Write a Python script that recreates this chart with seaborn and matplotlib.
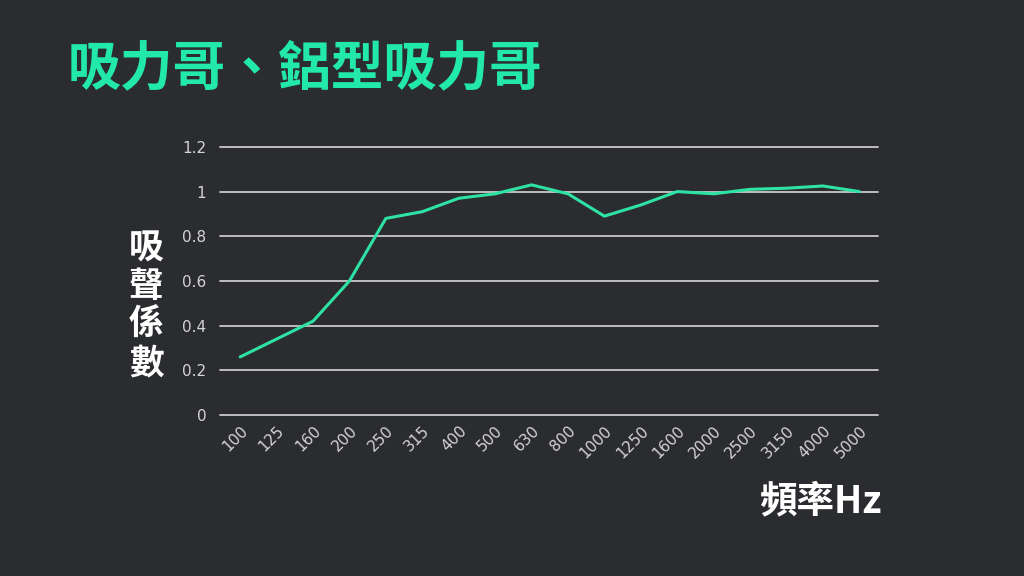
import numpy as np
import pandas as pd
import seaborn as sns
import matplotlib.pyplot as plt

# data
freqs = ['100', '125', '160', '200', '250', '315', '400', '500', '630', '800',
         '1000', '1250', '1600', '2000', '2500', '3150', '4000', '5000']
absorption = [0.26, 0.34, 0.42, 0.60, 0.88, 0.91, 0.97, 0.99, 1.03, 0.99,
              0.89, 0.94, 1.00, 0.99, 1.01, 1.015, 1.025, 1.00]
y_ticks = [0, 0.2, 0.4, 0.6, 0.8, 1, 1.2]
y_tick_labels = ['0', '0.2', '0.4', '0.6', '0.8', '1', '1.2']

BG = '#2b2c30'
GREEN = '#2ee2a4'
TITLE = '#22e8aa'
GRID = '#c9c9c9'
TICK = '#d4d4d4'

sns.set_theme(style='dark')
plt.rcParams['font.family'] = ['Noto Sans CJK TC', 'DejaVu Sans']

df = pd.DataFrame({'pos': np.arange(len(freqs)), 'freq': freqs, 'alpha': absorption})

fig = plt.figure(figsize=(10.24, 5.76), dpi=100, facecolor=BG)
ax = fig.add_axes([0.215, 0.2795, 0.642, 0.4655])
ax.set_facecolor(BG)

for y in y_ticks:
    ax.axhline(y, color=GRID, lw=1.3, zorder=1, clip_on=False)

sns.lineplot(data=df, x='pos', y='alpha', color=GREEN, lw=2.2, ax=ax, zorder=3)

ax.set_xlim(-0.55, len(freqs) - 0.5)
ax.set_ylim(0, 1.2)
ax.set_xticks(df['pos'])
ax.set_xticklabels(freqs, rotation=45, ha='right', rotation_mode='anchor',
                   color=TICK, fontsize=11, family='DejaVu Sans')
ax.set_yticks(y_ticks)
ax.set_yticklabels(y_tick_labels, color=TICK, fontsize=11, family='DejaVu Sans')
ax.tick_params(axis='both', length=0, pad=10)
ax.tick_params(axis='x', pad=6)
ax.set_xlabel('')
ax.set_ylabel('')
for s in ax.spines.values():
    s.set_visible(False)
ax.grid(False)

fig.text(0.066, 0.88, '吸力哥、鋁型吸力哥', color=TITLE, fontsize=38,
         fontweight='heavy', ha='left', va='center')
fig.text(0.143, 0.47, '吸\n聲\n係\n數', color='white', fontsize=25,
         fontweight='heavy', ha='center', va='center', linespacing=1.12)
fig.text(0.862, 0.13, '頻率Hz', color='white', fontsize=27,
         fontweight='heavy', ha='right', va='center')

fig.savefig('out.png', dpi=100, facecolor=BG)
